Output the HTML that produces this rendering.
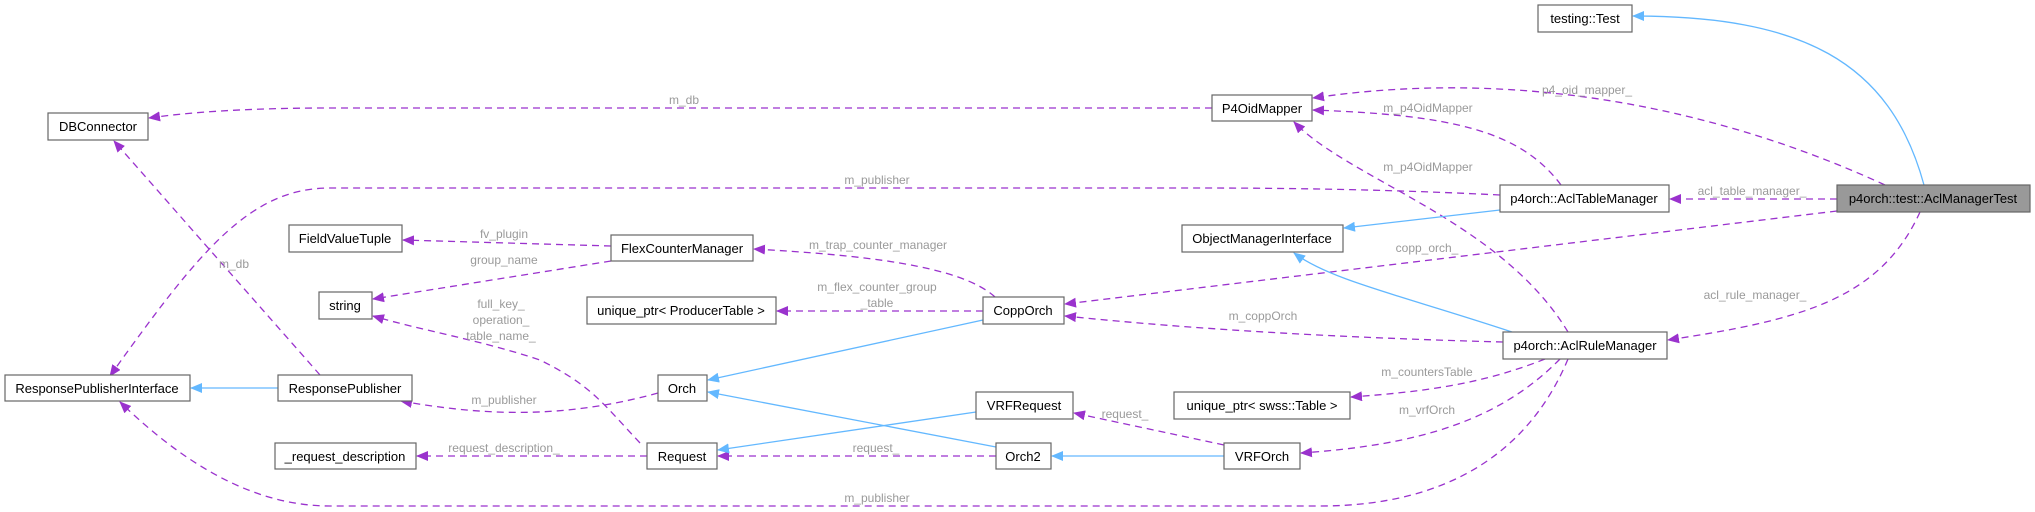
<!DOCTYPE html>
<html><head><meta charset="utf-8"><style>
html,body{margin:0;padding:0;background:#fff;}
svg{display:block;}
text{font-family:"Liberation Sans",Arial,sans-serif;}
.n{fill:#fff;stroke:#666;stroke-width:1.2;}
.t{font-size:13px;fill:#000;text-anchor:middle;}
.l{font-size:12px;fill:#9a9a9a;text-anchor:middle;}
.d{fill:none;stroke:#9a32cd;stroke-width:1.3;stroke-dasharray:7,5;}
.b{fill:none;stroke:#63b8ff;stroke-width:1.3;}
</style></head><body>
<svg width="2035" height="512" viewBox="0 0 2035 512" xmlns="http://www.w3.org/2000/svg">
<defs>
<marker id="ap" markerWidth="12" markerHeight="10" refX="11" refY="5" orient="auto" markerUnits="userSpaceOnUse"><path d="M0,0 L12,5 L0,10 z" fill="#9a32cd"/></marker>
<marker id="ab" markerWidth="12" markerHeight="10" refX="11" refY="5" orient="auto" markerUnits="userSpaceOnUse"><path d="M0,0 L12,5 L0,10 z" fill="#63b8ff"/></marker>
</defs>
<!-- edges -->
<path class="b" marker-end="url(#ab)" d="M1924,185 C1890,60 1800,16 1633,16"/>
<path class="d" marker-end="url(#ap)" d="M1885,185 C1700,100 1500,70 1313,98"/>
<path class="d" marker-end="url(#ap)" d="M1561,185 C1520,130 1450,115 1313,110"/>
<path class="d" marker-end="url(#ap)" d="M1568,332 C1500,220 1350,180 1294,122"/>
<path class="d" marker-end="url(#ap)" d="M1212,108 L330,108 C250,108 190,112 149,118"/>
<path class="d" marker-end="url(#ap)" d="M1500,195 C1400,190 1300,188 1200,188 L330,188 C250,188 200,250 110,376"/>
<path class="d" marker-end="url(#ap)" d="M1837,199 L1670,199"/>
<path class="b" marker-end="url(#ab)" d="M1500,210 L1344,228"/>
<path class="d" marker-end="url(#ap)" d="M1837,211 L1065,304"/>
<path class="b" marker-end="url(#ab)" d="M1512,332 C1400,295 1330,280 1294,253"/>
<path class="d" marker-end="url(#ap)" d="M1920,212 C1880,300 1800,320 1668,340"/>
<path class="d" marker-end="url(#ap)" d="M1503,342 C1350,338 1200,330 1065,316"/>
<path class="d" marker-end="url(#ap)" d="M1545,359 C1480,385 1420,392 1351,397"/>
<path class="d" marker-end="url(#ap)" d="M1560,359 C1500,420 1420,445 1301,453"/>
<path class="d" marker-end="url(#ap)" d="M1568,359 C1530,450 1450,506 1320,506 L330,506 C250,506 180,460 120,402"/>
<path class="d" marker-end="url(#ap)" d="M1224,445 L1074,413"/>
<path class="b" marker-end="url(#ab)" d="M1224,456 L1052,456"/>
<path class="d" marker-end="url(#ap)" d="M996,456 L718,456"/>
<path class="b" marker-end="url(#ab)" d="M996,447 L708,392"/>
<path class="b" marker-end="url(#ab)" d="M976,412 L718,450"/>
<path class="b" marker-end="url(#ab)" d="M983,320 L708,380"/>
<path class="d" marker-end="url(#ap)" d="M983,311 L777,311"/>
<path class="d" marker-end="url(#ap)" d="M995,297 C960,265 860,255 754,249"/>
<path class="d" marker-end="url(#ap)" d="M611,246 L403,240"/>
<path class="d" marker-end="url(#ap)" d="M611,261 L373,299"/>
<path class="d" marker-end="url(#ap)" d="M640,443 C600,400 590,385 540,360 C480,340 420,330 373,316"/>
<path class="d" marker-end="url(#ap)" d="M658,393 C560,420 480,415 401,401"/>
<path class="d" marker-end="url(#ap)" d="M320,375 L114,141"/>
<path class="d" marker-end="url(#ap)" d="M647,456 L417,456"/>
<path class="b" marker-end="url(#ab)" d="M278,388 L191,388"/>
<!-- labels -->
<text class="l" x="1587" y="94">p4_oid_mapper_</text>
<text class="l" x="1428" y="112">m_p4OidMapper</text>
<text class="l" x="1428" y="171">m_p4OidMapper</text>
<text class="l" x="684" y="104">m_db</text>
<text class="l" x="877" y="184">m_publisher</text>
<text class="l" x="1752" y="195">acl_table_manager_</text>
<text class="l" x="1427" y="252">copp_orch_</text>
<text class="l" x="1755" y="299">acl_rule_manager_</text>
<text class="l" x="1263" y="320">m_coppOrch</text>
<text class="l" x="1427" y="376">m_countersTable</text>
<text class="l" x="1427" y="414">m_vrfOrch</text>
<text class="l" x="877" y="502">m_publisher</text>
<text class="l" x="1125" y="418">request_</text>
<text class="l" x="876" y="452">request_</text>
<text class="l" x="877" y="291">m_flex_counter_group</text>
<text class="l" x="877" y="307">_table</text>
<text class="l" x="878" y="249">m_trap_counter_manager</text>
<text class="l" x="504" y="238">fv_plugin</text>
<text class="l" x="504" y="264">group_name</text>
<text class="l" x="501" y="308">full_key_</text>
<text class="l" x="501" y="324">operation_</text>
<text class="l" x="501" y="340">table_name_</text>
<text class="l" x="504" y="404">m_publisher</text>
<text class="l" x="234" y="268">m_db</text>
<text class="l" x="504" y="452">request_description_</text>
<!-- nodes -->
<rect class="n" x="1538" y="5" width="94" height="27"/><text class="t" x="1585" y="23">testing::Test</text>
<rect class="n" x="1212" y="95" width="100" height="26"/><text class="t" x="1262" y="113">P4OidMapper</text>
<rect class="n" x="48" y="113" width="100" height="27"/><text class="t" x="98" y="131">DBConnector</text>
<rect class="n" x="1500" y="185" width="169" height="27"/><text class="t" x="1584" y="203">p4orch::AclTableManager</text>
<rect x="1837" y="185" width="193" height="27" fill="#999" stroke="#666" stroke-width="1.2"/><text class="t" x="1933" y="203">p4orch::test::AclManagerTest</text>
<rect class="n" x="1182" y="225" width="161" height="27"/><text class="t" x="1262" y="243">ObjectManagerInterface</text>
<rect class="n" x="289" y="225" width="113" height="27"/><text class="t" x="345" y="243">FieldValueTuple</text>
<rect class="n" x="611" y="235" width="142" height="26"/><text class="t" x="682" y="253">FlexCounterManager</text>
<rect class="n" x="319" y="292" width="53" height="27"/><text class="t" x="345" y="310">string</text>
<rect class="n" x="587" y="297" width="189" height="27"/><text class="t" x="681" y="315">unique_ptr&lt; ProducerTable &gt;</text>
<rect class="n" x="983" y="297" width="81" height="27"/><text class="t" x="1023" y="315">CoppOrch</text>
<rect class="n" x="1503" y="332" width="164" height="27"/><text class="t" x="1585" y="350">p4orch::AclRuleManager</text>
<rect class="n" x="5" y="375" width="185" height="26"/><text class="t" x="97" y="393">ResponsePublisherInterface</text>
<rect class="n" x="278" y="375" width="134" height="26"/><text class="t" x="345" y="393">ResponsePublisher</text>
<rect class="n" x="658" y="375" width="49" height="26"/><text class="t" x="682" y="393">Orch</text>
<rect class="n" x="976" y="392" width="97" height="27"/><text class="t" x="1024" y="410">VRFRequest</text>
<rect class="n" x="1174" y="392" width="176" height="27"/><text class="t" x="1262" y="410">unique_ptr&lt; swss::Table &gt;</text>
<rect class="n" x="275" y="443" width="141" height="26"/><text class="t" x="345" y="461">_request_description</text>
<rect class="n" x="647" y="443" width="70" height="26"/><text class="t" x="682" y="461">Request</text>
<rect class="n" x="996" y="443" width="55" height="26"/><text class="t" x="1023" y="461">Orch2</text>
<rect class="n" x="1224" y="443" width="76" height="26"/><text class="t" x="1262" y="461">VRFOrch</text>
</svg>
</body></html>
